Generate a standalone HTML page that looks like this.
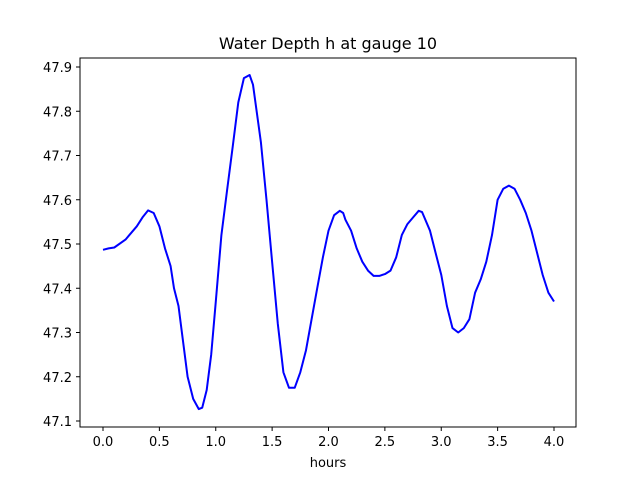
<!DOCTYPE html>
<html><head><meta charset="utf-8"><style>
body{margin:0;background:#fff;}
svg{display:block;font-family:"DejaVu Sans","Liberation Sans",sans-serif;}
</style></head><body>
<svg id="chart" width="640" height="480" viewBox="0 0 640 480">
<rect width="640" height="480" fill="#fff"/>
<text x="328" y="49" font-size="16" text-anchor="middle">Water Depth h at gauge 10</text>
<g id="ticks"></g>
<polyline id="line" fill="none" stroke="#0000ff" stroke-width="2" stroke-linejoin="round"/>
<rect x="80" y="58" width="496" height="369" fill="none" stroke="#000" stroke-width="1"/>
<text x="328" y="467" font-size="13" text-anchor="middle">hours</text>
</svg>
<script>
const hours=[0,0.05,0.1,0.2,0.3,0.35,0.4,0.45,0.5,0.55,0.6,0.63,0.67,0.7,0.75,0.8,0.85,0.88,0.92,0.96,1.0,1.05,1.1,1.15,1.2,1.25,1.3,1.33,1.4,1.45,1.5,1.55,1.6,1.65,1.7,1.75,1.8,1.85,1.9,1.95,2.0,2.05,2.1,2.13,2.15,2.2,2.25,2.3,2.35,2.4,2.45,2.5,2.55,2.6,2.65,2.7,2.75,2.8,2.83,2.9,2.95,3.0,3.05,3.1,3.15,3.2,3.25,3.3,3.35,3.4,3.45,3.5,3.55,3.6,3.65,3.7,3.75,3.8,3.85,3.9,3.95,4.0];
const depth=[47.487,47.49,47.492,47.51,47.54,47.56,47.576,47.57,47.54,47.49,47.45,47.40,47.36,47.30,47.20,47.15,47.127,47.13,47.17,47.25,47.37,47.52,47.62,47.72,47.82,47.875,47.882,47.86,47.73,47.60,47.46,47.32,47.21,47.175,47.175,47.21,47.26,47.33,47.40,47.47,47.53,47.565,47.575,47.57,47.555,47.53,47.49,47.46,47.44,47.428,47.428,47.432,47.44,47.47,47.52,47.545,47.56,47.575,47.572,47.53,47.48,47.43,47.36,47.31,47.30,47.31,47.33,47.39,47.42,47.46,47.52,47.60,47.625,47.632,47.625,47.60,47.57,47.53,47.48,47.43,47.39,47.37];
const xTicks=[0,0.5,1.0,1.5,2.0,2.5,3.0,3.5,4.0];
const yTicks=[47.1,47.2,47.3,47.4,47.5,47.6,47.7,47.8,47.9];
const xs=v=>103+(v-0)*(554-103)/4;
const ys=v=>421-(v-47.1)*(421-67)/0.8;
const ns="http://www.w3.org/2000/svg";
const line=document.getElementById('line');
line.setAttribute('points',hours.map((h,i)=>xs(h).toFixed(1)+','+ys(depth[i]).toFixed(1)).join(' '));
const g=document.getElementById('ticks');
xTicks.forEach(t=>{
  const l=document.createElementNS(ns,'line');
  
  
  l.setAttribute('x1',xs(t));l.setAttribute('x2',xs(t));l.setAttribute('y1',427);l.setAttribute('y2',431);l.setAttribute('stroke','#000');
  g.appendChild(l);
  const tx=document.createElementNS(ns,'text');
  
  
  tx.setAttribute('x',xs(t));tx.setAttribute('y',446);tx.setAttribute('font-size','13');tx.setAttribute('text-anchor','middle');
  tx.textContent=t.toFixed(1);
  g.appendChild(tx);
});
yTicks.forEach(t=>{
  const l=document.createElementNS(ns,'line');
  
  
  l.setAttribute('x1',76);l.setAttribute('x2',80);l.setAttribute('y1',ys(t));l.setAttribute('y2',ys(t));l.setAttribute('stroke','#000');
  g.appendChild(l);
  const tx=document.createElementNS(ns,'text');
  
  
  tx.setAttribute('x',72);tx.setAttribute('y',ys(t)+5);tx.setAttribute('font-size','13');tx.setAttribute('text-anchor','end');
  tx.textContent=t.toFixed(1);
  g.appendChild(tx);
});
</script>
</body></html>
